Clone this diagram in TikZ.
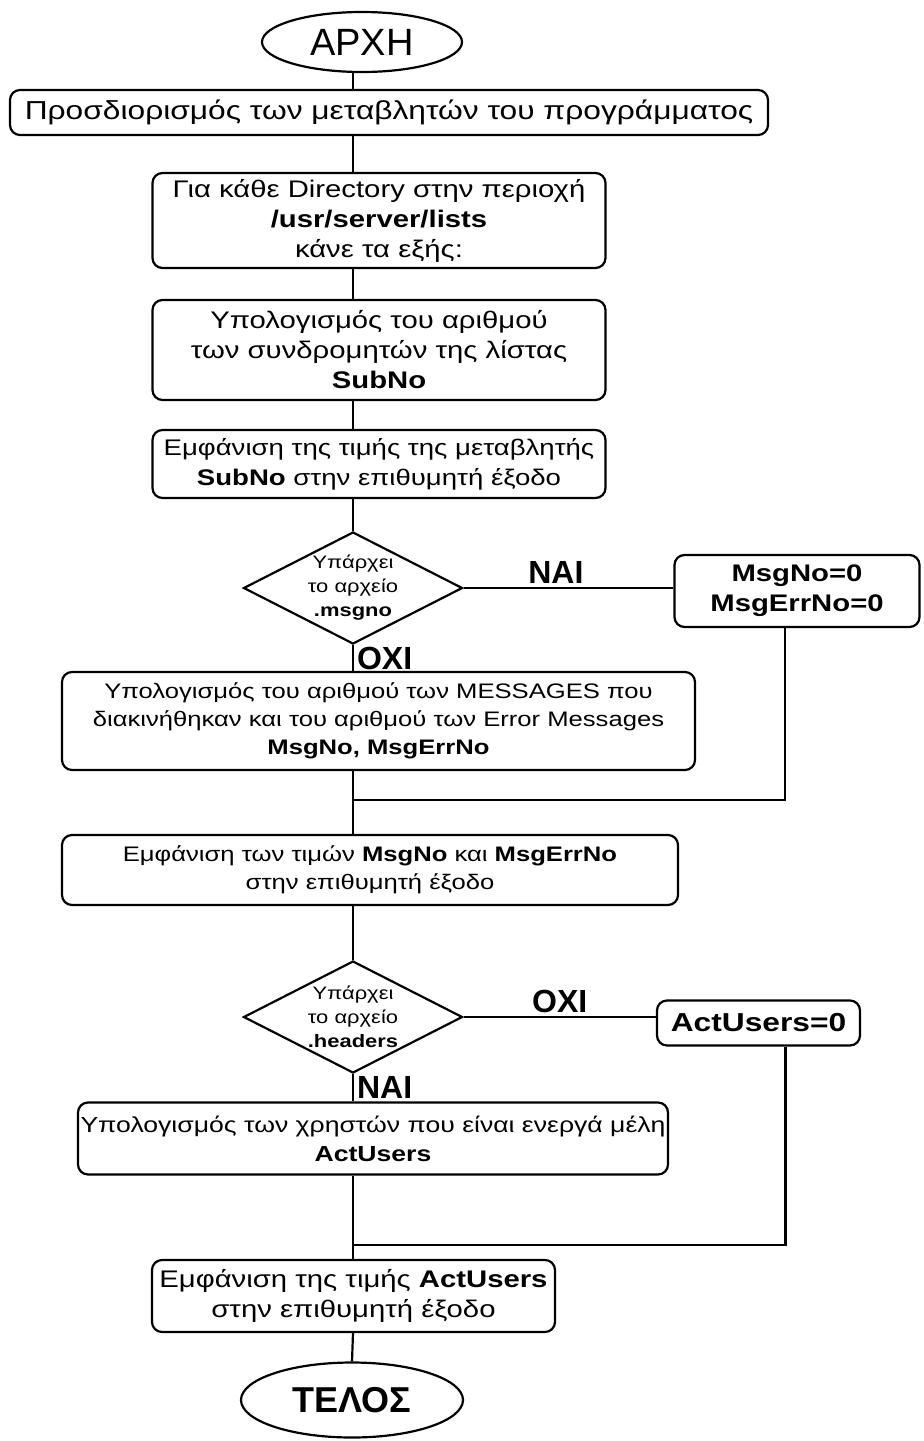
\documentclass[tikz,border=0pt]{standalone}
\usepackage{fontspec}
\setmainfont{Liberation Sans}
\newfontfamily\widefont[FakeStretch=1.22]{Liberation Sans}
\usetikzlibrary{shapes,positioning,calc}

\begin{document}
\begin{tikzpicture}[x=0.5pt, y=-0.5pt, line width=1.1pt,
    box/.style={draw, rounded corners=5pt, align=center, inner sep=0pt,
        font=\widefont\fontsize{12}{15}\selectfont},
    terminal/.style={draw, ellipse, inner sep=0pt},
    decision/.style={draw, diamond, inner sep=0pt, minimum width=109.5pt, minimum height=56pt},
    dtext/.style={align=center, inner sep=0pt, font=\widefont\fontsize{9}{12}\selectfont},
    lbl/.style={inner sep=1.5pt, font=\bfseries\fontsize{16}{16}\selectfont}]
    \useasboundingbox (0,0) rectangle (923,1441);

    % start and global variables
    \node[terminal, minimum width=100pt, minimum height=30pt, font=\fontsize{19}{19}\selectfont] (start) at (362,42) {ΑΡΧΗ};
    \node[box, minimum width=379pt, minimum height=22.5pt, font=\widefont\fontsize{13}{15}\selectfont] (vars) at (389,112.5) {Προσδιορισμός των μεταβλητών του προγράμματος};

    % loop over the lists
    \node[box, minimum width=226.5pt, minimum height=47.5pt] (loop) at (379,220.5) {Για κάθε Directory στην περιοχή\\\textbf{/usr/server/lists}\\κάνε τα εξής:};
    \node[box, minimum width=226.5pt, minimum height=50pt] (subcount) at (379,350) {Υπολογισμός του αριθμού\\των συνδρομητών της λίστας\\\textbf{SubNo}};
    \node[box, minimum width=226.5pt, minimum height=34pt, font=\widefont\fontsize{11.3}{15}\selectfont] (subshow) at (379,464) {Εμφάνιση της τιμής της μεταβλητής\\\textbf{SubNo} στην επιθυμητή έξοδο};

    % messages
    \node[decision, label={[dtext]center:{Υπάρχει\\το αρχείο\\\textbf{.msgno}}}] (msgfile) at (353,588) {};
    \node[box, minimum width=122.5pt, minimum height=36pt, font=\widefont\bfseries\fontsize{12}{15}\selectfont] (msgzero) at (797,591) {MsgNo=0\\MsgErrNo=0};
    \node[box, minimum width=316.5pt, minimum height=49pt, font=\widefont\fontsize{10.5}{14}\selectfont] (msgcount) at (378.5,721) {Υπολογισμός του αριθμού των MESSAGES που\\διακινήθηκαν και του αριθμού των Error Messages\\\textbf{MsgNo, MsgErrNo}};
    \node[box, minimum width=308pt, minimum height=35pt, font=\widefont\fontsize{10.5}{14}\selectfont] (msgshow) at (370,870) {Εμφάνιση των τιμών \textbf{MsgNo} και \textbf{MsgErrNo}\\στην επιθυμητή έξοδο};

    % active users
    \node[decision, label={[dtext]center:{Υπάρχει\\το αρχείο\\\textbf{.headers}}}] (hdrfile) at (353,1017) {};
    \node[box, minimum width=101.5pt, minimum height=22.5pt, font=\widefont\bfseries\fontsize{13}{15}\selectfont] (actzero) at (758.5,1023) {ActUsers=0};
    \node[box, minimum width=295pt, minimum height=36pt, font=\widefont\fontsize{10.9}{14.5}\selectfont] (actcount) at (373,1138.5) {Υπολογισμός των χρηστών που είναι ενεργά μέλη\\\textbf{ActUsers}};
    \node[box, minimum width=201.5pt, minimum height=36pt] (actshow) at (353.5,1296) {Εμφάνιση της τιμής \textbf{ActUsers}\\στην επιθυμητή έξοδο};
    \node[terminal, minimum width=111pt, minimum height=37.5pt, font=\bfseries\fontsize{18}{18}\selectfont] (stop) at (352,1400) {ΤΕΛΟΣ};

    % connectors
    \draw (start.south -| msgfile) -- (vars.north -| msgfile);
    \draw (vars.south -| msgfile) -- (loop.north -| msgfile);
    \draw (loop.south -| msgfile) -- (subcount.north -| msgfile);
    \draw (subcount.south -| msgfile) -- (subshow.north -| msgfile);
    \draw (subshow.south -| msgfile) -- (msgfile.north);
    \draw (msgfile.east) -- node[lbl, above, pos=0.44] (yes1) {ΝΑΙ} (msgfile.east -| msgzero.west);
    \draw (msgfile.south) -- node[lbl, right] (no1) {ΟΧΙ} (msgcount.north -| msgfile);
    \coordinate (join1) at (353,800);
    \draw ([xshift=-6pt]msgzero.south) |- (join1);
    \draw (msgcount.south -| msgfile) -- (msgshow.north -| msgfile);
    \draw (msgshow.south -| msgfile) -- (hdrfile.north);
    \draw (hdrfile.east) -- node[lbl, above] (no2) {ΟΧΙ} (hdrfile.east -| actzero.west);
    \draw (hdrfile.south) -- node[lbl, right] (yes2) {ΝΑΙ} (actcount.north -| hdrfile);
    \coordinate (join2) at (353,1245);
    \draw ([xshift=13.5pt]actzero.south) |- (join2);
    \draw (actcount.south -| hdrfile) -- (actshow.north -| hdrfile);
    \draw (actshow.south -| hdrfile) -- (stop.north);
\end{tikzpicture}
\end{document}
